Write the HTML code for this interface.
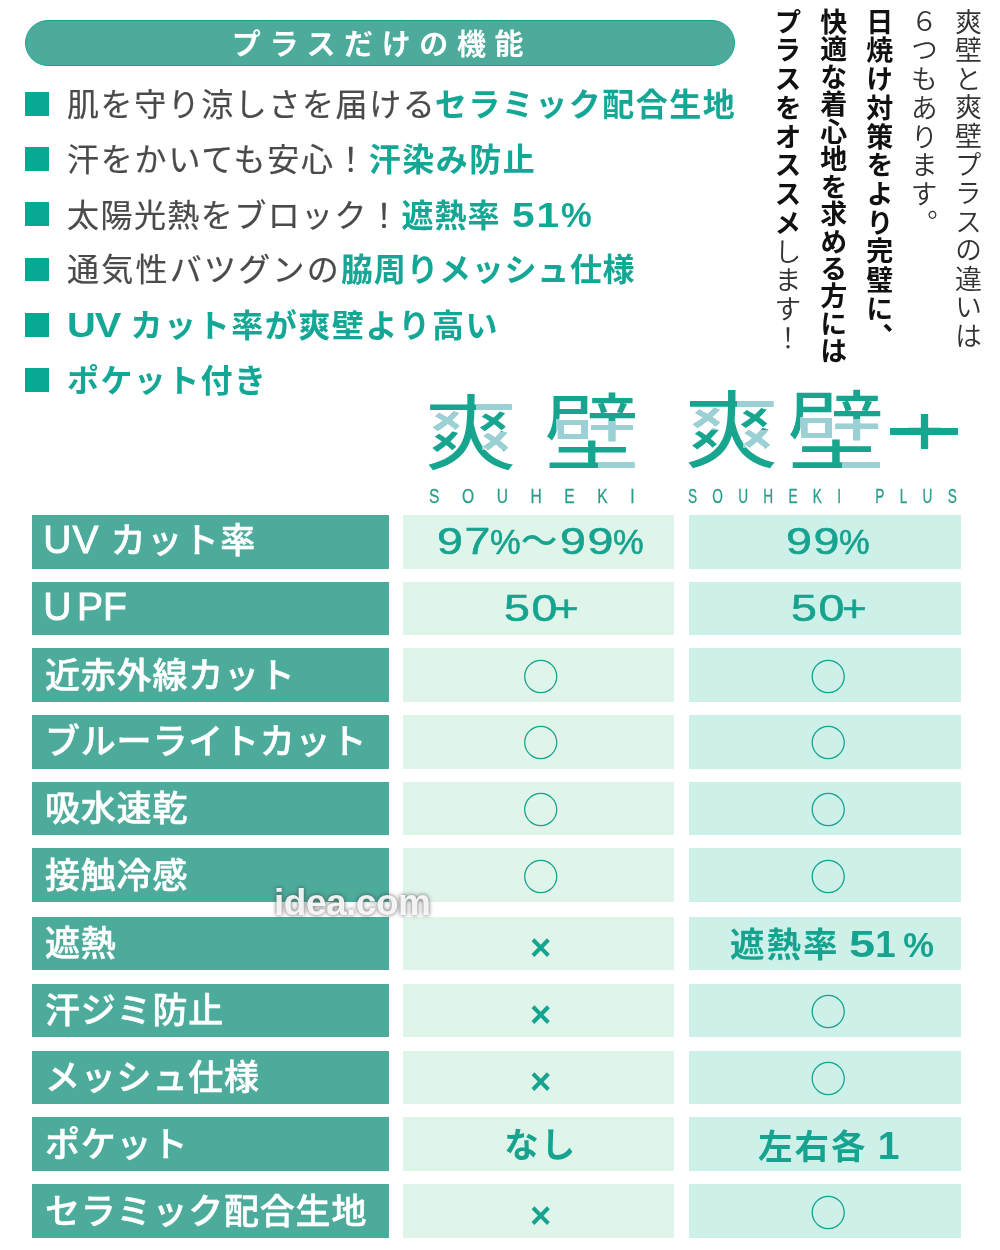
<!DOCTYPE html>
<html lang="ja">
<head>
<meta charset="utf-8">
<title>爽壁と爽壁プラスの違い</title>
<style>
html,body{margin:0;padding:0;background:#fff;}
body{width:1000px;height:1250px;position:relative;overflow:hidden;font-family:"Liberation Sans","Noto Sans CJK JP",sans-serif;}
i{font-style:normal;}
.abs{position:absolute;}
.pill{left:24.5px;top:20.1px;width:708.6px;height:43.8px;border-radius:24px;background:#4dab9c;border:1.2px solid #14a58f;color:#fff;font-weight:700;font-size:29px;letter-spacing:8.6px;text-align:center;line-height:43.8px;}
.pill span{position:relative;left:2.2px;top:2.8px;}
.bul{left:24.5px;width:24.5px;height:23.8px;background:#08a893;}
.line{left:67px;height:40px;line-height:40px;font-size:32px;color:#4a4a4a;white-space:nowrap;font-weight:400;-webkit-text-stroke:.2px #4a4a4a;}
.line b{color:#14a795;font-weight:700;-webkit-text-stroke:0;}
.dg{display:inline-block;white-space:nowrap;}
.dg i{display:inline-block;transform-origin:0 50%;}
.la{font-size:34.5px;letter-spacing:0;}
.vt{writing-mode:vertical-rl;text-orientation:upright;white-space:nowrap;font-size:27px;line-height:40px;width:40px;top:8px;color:#333;font-weight:350;font-family:"Noto Sans CJK JP",sans-serif;}
.vt b{font-weight:700;color:#111;}
.lab{left:32px;width:357px;height:53.8px;background:#4dab9c;color:#fff;font-size:35px;font-weight:500;line-height:53.8px;white-space:nowrap;letter-spacing:.8px;}
.lab span{position:absolute;left:13px;top:.5px;-webkit-text-stroke:.5px #fff;}
.lab span.hi{left:11.3px;top:-2px;letter-spacing:1.5px;}
.lt{font-size:39px;font-weight:400;-webkit-text-stroke:.85px #fff;letter-spacing:1px;}
.c2,.c3{height:53.8px;text-align:center;color:#16a38f;line-height:53.8px;white-space:nowrap;}
.c2{left:403px;width:271px;background:#e0f5ea;box-sizing:border-box;padding-left:4.5px;}
.c3{left:689px;width:272px;background:#cdf0e9;box-sizing:border-box;padding-left:6.4px;}
.num{position:relative;left:-3.2px;font-size:36.7px;font-weight:400;-webkit-text-stroke:.55px #16a38f;letter-spacing:0;}
.pc{letter-spacing:0;margin-left:3.5px;font-size:34.5px;}
.nami{font-weight:500;-webkit-text-stroke:0;margin-right:-3px;}
.numb{font-size:36.7px;font-weight:700;letter-spacing:4px;}
.jp{font-size:34.5px;font-weight:700;position:relative;top:1.5px;letter-spacing:2px;}
.maru{font-size:37px;font-weight:300;font-family:"Noto Sans CJK JP",sans-serif;position:relative;top:.3px;}
.batsu{font-size:36.5px;font-weight:700;position:relative;top:4.5px;}
.lg{color:#17a58f;font-family:"Noto Sans CJK JP",sans-serif;font-weight:400;white-space:nowrap;line-height:1;width:1em;height:1.1em;transform-origin:0 0;}
.tone{background:#9bd0d4;mix-blend-mode:lighten;}
.plus{color:#17a58f;font-family:"Liberation Sans",sans-serif;font-weight:700;line-height:1;}
.bar{background:#17a58f;}
.sub{color:#2a9d8a;font-size:19.5px;font-weight:400;white-space:nowrap;line-height:19.5px;transform-origin:0 0;-webkit-text-stroke:.3px #2a9d8a;}
.wm{left:274px;top:880.5px;font-size:37px;font-weight:700;color:rgba(255,255,255,.9);text-shadow:0 0 4px rgba(60,60,60,.85);letter-spacing:-.5px;line-height:44px;}
</style>
</head>
<body>
<div class="abs pill"><span>プラスだけの機能</span></div>
<div class="abs bul" style="top:92.0px"></div><div class="abs line" style="top:84.5px;letter-spacing:1.57px">肌を守り涼しさを届ける<b style="margin-left:-1.5px;letter-spacing:1.50px">セラミック配合生地</b></div>
<div class="abs bul" style="top:147.2px"></div><div class="abs line" style="top:139.7px;letter-spacing:1.80px">汗をかいても安心！<b style="letter-spacing:1.50px">汗染み防止</b></div>
<div class="abs bul" style="top:202.4px"></div><div class="abs line" style="top:194.9px;letter-spacing:1.44px">太陽光熱をブロック！<b style="letter-spacing:1.00px">遮熱率 <span class="la" style="margin-left:2px"><i class="dg" style="width:48.81px;"><i style="font-size:34.5px;letter-spacing:1.50px;transform:scaleX(1.180)">51</i></i>%</span></b></div>
<div class="abs bul" style="top:257.6px"></div><div class="abs line" style="top:250.1px;letter-spacing:2.25px">通気性バツグンの<b style="letter-spacing:0.70px">脇周りメッシュ仕様</b></div>
<div class="abs bul" style="top:312.8px"></div><div class="abs line" style="top:305.3px;letter-spacing:1.30px"><b style="letter-spacing:1.55px"><span class="la"><i class="dg" style="width:53.14px;"><i style="font-size:35.0px;letter-spacing:-1.00px;transform:scaleX(1.140)">UV</i></i></span> カット率が爽壁より高い</b></div>
<div class="abs bul" style="top:368.0px"></div><div class="abs line" style="top:360.5px;letter-spacing:1.30px"><b style="letter-spacing:1.40px">ポケット付き</b></div>
<div class="abs vt" style="left:948.0px;letter-spacing:1.56px">爽壁と爽壁プラスの違いは</div>
<div class="abs vt" style="left:903.8px;letter-spacing:1.70px">６つもあります。</div>
<div class="abs vt" style="left:859.3px;letter-spacing:1.70px"><b>日焼け対策をより完璧に、</b></div>
<div class="abs vt" style="left:813.2px;letter-spacing:0.47px"><b>快適な着心地を求める方には</b></div>
<div class="abs vt" style="left:767.5px;letter-spacing:1.73px"><b>プラスをオススメ</b>します！</div>
<div class="abs lg" style="left:424.7px;top:385.6px;font-size:92.0px;transform:scale(1,0.8910)">爽</div><div class="abs tone" style="left:475.8px;top:397.9px;width:40.9px;height:13.1px"></div><div class="abs tone" style="left:424.7px;top:411.0px;width:39.5px;height:20.9px"></div><div class="abs tone" style="left:482.2px;top:431.9px;width:34.5px;height:18.0px"></div>
<div class="abs lg" style="left:544.4px;top:384.7px;font-size:94.8px;transform:scale(1,0.8957)">壁</div><div class="abs tone" style="left:556.3px;top:419.1px;width:33.5px;height:22.1px"></div><div class="abs tone" style="left:590.1px;top:421.2px;width:49.1px;height:16.1px"></div><div class="abs tone" style="left:601.3px;top:437.4px;width:37.9px;height:6.8px"></div><div class="abs tone" style="left:597.5px;top:458.6px;width:41.7px;height:12.7px"></div>
<div class="abs lg" style="left:684.5px;top:382.2px;font-size:94.1px;transform:scale(1,0.8950)">爽</div><div class="abs tone" style="left:736.7px;top:394.8px;width:41.9px;height:13.5px"></div><div class="abs tone" style="left:684.5px;top:408.3px;width:40.5px;height:21.5px"></div><div class="abs tone" style="left:743.3px;top:429.8px;width:35.3px;height:18.5px"></div>
<div class="abs lg" style="left:787.6px;top:381.2px;font-size:97.2px;transform:scale(1,0.9016)">壁</div><div class="abs tone" style="left:799.7px;top:416.7px;width:34.3px;height:22.8px"></div><div class="abs tone" style="left:834.4px;top:418.9px;width:50.4px;height:16.7px"></div><div class="abs tone" style="left:845.9px;top:435.6px;width:38.9px;height:7.0px"></div><div class="abs tone" style="left:842.0px;top:457.5px;width:42.8px;height:13.1px"></div>
<div class="abs plus" style="left:905.2px;top:396.9px;font-size:66px;">+</div><div class="abs bar" style="left:890px;top:427.6px;width:68px;height:7.4px"></div><div class="abs bar" style="left:920.6px;top:413.6px;width:7.8px;height:35.4px"></div>
<div class="abs sub" id="sb1" style="left:428.8px;top:486.5px;letter-spacing:28.2px;transform:scaleX(.8)">SOUHEKI</div>
<div class="abs sub" id="sb2" style="left:687.7px;top:486.5px;letter-spacing:21.8px;transform:scaleX(.7)">SOUHEKI PLUS</div>
<div class="abs lab" style="top:515.00px"><span class="hi"><i class="lt">UV</i> カット率</span></div><div class="abs c2" style="top:515.00px"><span class="num"><i class="dg" style="width:55.00px;"><i style="font-size:36.7px;letter-spacing:1.25px;transform:scaleX(1.270)">97</i></i><i class="pc">%</i><i class="nami">〜</i><i class="dg" style="width:55.00px;"><i style="font-size:36.7px;letter-spacing:1.25px;transform:scaleX(1.270)">99</i></i><i class="pc">%</i></span></div><div class="abs c3" style="top:515.00px"><span class="num"><i class="dg" style="width:55.00px;"><i style="font-size:36.7px;letter-spacing:1.25px;transform:scaleX(1.270)">99</i></i><i class="pc">%</i></span></div>
<div class="abs lab" style="top:581.65px"><span class="hi"><i class="lt"><i style="letter-spacing:5.5px">U</i><i style="letter-spacing:0">P</i>F</i></span></div><div class="abs c2" style="top:581.65px"><span class="num"><i class="dg" style="width:55.00px;"><i style="font-size:36.7px;letter-spacing:1.25px;transform:scaleX(1.270)">50</i></i><i class="dg" style="width:24.65px;"><i style="font-size:36.7px;letter-spacing:0.00px;transform:scaleX(1.150)">+</i></i></span></div><div class="abs c3" style="top:581.65px"><span class="num"><i class="dg" style="width:55.00px;"><i style="font-size:36.7px;letter-spacing:1.25px;transform:scaleX(1.270)">50</i></i><i class="dg" style="width:24.65px;"><i style="font-size:36.7px;letter-spacing:0.00px;transform:scaleX(1.150)">+</i></i></span></div>
<div class="abs lab" style="top:648.30px"><span>近赤外線カット</span></div><div class="abs c2" style="top:648.30px"><span class="maru">○</span></div><div class="abs c3" style="top:648.30px"><span class="maru">○</span></div>
<div class="abs lab" style="top:714.95px"><span>ブルーライトカット</span></div><div class="abs c2" style="top:714.95px"><span class="maru">○</span></div><div class="abs c3" style="top:714.95px"><span class="maru">○</span></div>
<div class="abs lab" style="top:781.60px"><span>吸水速乾</span></div><div class="abs c2" style="top:781.60px"><span class="maru">○</span></div><div class="abs c3" style="top:781.60px"><span class="maru">○</span></div>
<div class="abs lab" style="top:848.25px"><span>接触冷感</span></div><div class="abs c2" style="top:848.25px"><span class="maru">○</span></div><div class="abs c3" style="top:848.25px"><span class="maru">○</span></div>
<div class="abs lab" style="top:916.60px"><span>遮熱</span></div><div class="abs c2" style="top:916.60px"><span class="batsu">×</span></div><div class="abs c3" style="top:916.60px"><span class="jp" style="left:3.7px">遮熱率 <span class="numb" style="margin-left:-5.7px"><i class="dg" style="width:29.96px;"><i style="font-size:36.7px;letter-spacing:3.00px;transform:scaleX(1.280)">5</i></i>1<i class="pc">%</i></span></span></div>
<div class="abs lab" style="top:983.55px"><span>汗ジミ防止</span></div><div class="abs c2" style="top:983.55px"><span class="batsu">×</span></div><div class="abs c3" style="top:983.55px"><span class="maru">○</span></div>
<div class="abs lab" style="top:1050.50px"><span>メッシュ仕様</span></div><div class="abs c2" style="top:1050.50px"><span class="batsu">×</span></div><div class="abs c3" style="top:1050.50px"><span class="maru">○</span></div>
<div class="abs lab" style="top:1117.45px"><span>ポケット</span></div><div class="abs c2" style="top:1117.45px"><span class="jp">なし</span></div><div class="abs c3" style="top:1117.45px"><span class="jp" style="left:2.5px">左右各 <span class="numb" style="font-size:39px;margin-left:-1.5px">1</span></span></div>
<div class="abs lab" style="top:1184.40px"><span>セラミック配合生地</span></div><div class="abs c2" style="top:1184.40px"><span class="batsu">×</span></div><div class="abs c3" style="top:1184.40px"><span class="maru">○</span></div>
<div class="abs wm">idea.com</div>
</body>
</html>
